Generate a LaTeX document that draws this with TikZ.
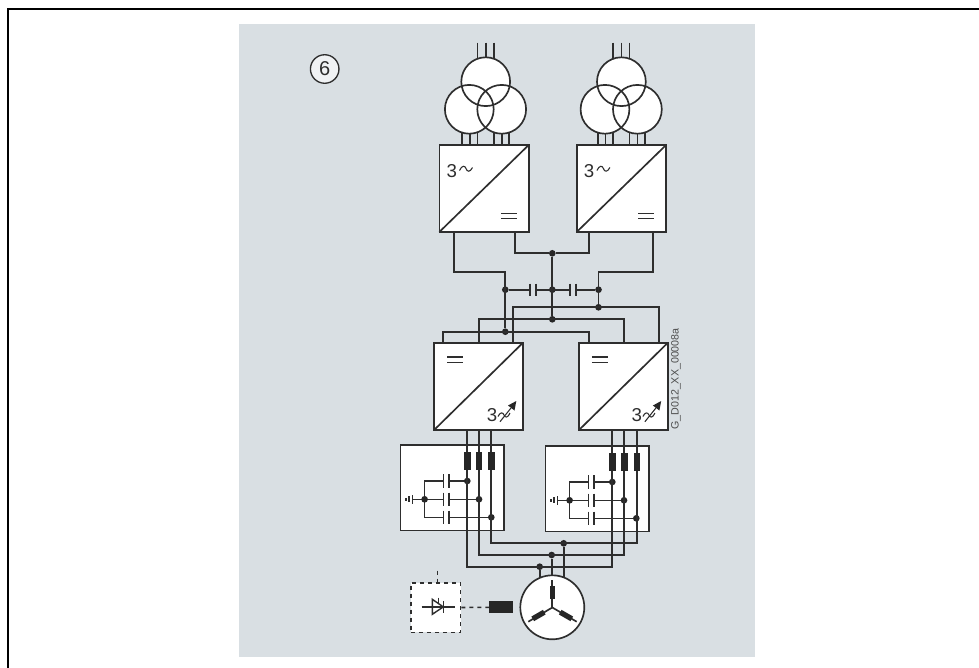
\documentclass[tikz,border=0pt]{standalone}
\usepackage{fontspec}
\setmainfont{Liberation Sans}
\definecolor{panel}{HTML}{D9DFE3}
\definecolor{ink}{HTML}{2E2E2E}
\tikzset{
  x=0.75pt,y=-0.75pt,
  wire/.style={draw=ink,line width=1.25pt,line cap=butt,line join=miter},
  thin wire/.style={draw=ink,line width=1.05pt},
  whitebox/.style={draw=ink,fill=white,line width=1.25pt,inner sep=0pt,outer sep=0pt},
  winding/.style={circle,draw=ink,line width=1.25pt,inner sep=0pt,outer sep=0pt,minimum size=36.6pt},
  windingfill/.style={circle,fill=white,inner sep=0pt,minimum size=36.6pt},
  junction/.style={circle,fill=black!85,inner sep=0pt,minimum size=5pt},
  choke/.style={fill=black!85,draw=none,inner sep=0pt,minimum width=4.8pt,minimum height=13.6pt},
  numeral/.style={text=ink,inner sep=0pt,font=\fontsize{14}{14}\selectfont},
  dashline/.style={draw=ink,line width=1.2pt,dash pattern=on 3pt off 3pt}
}
% transformer: #1 prefix, #2 x shift
\newcommand{\transformerunit}[2]{%
  \begin{scope}[shift={(#2,0)}]
    \foreach \lx in {477.5,485.7,493.9}{\draw[wire] (\lx,42.7) -- (\lx,62);}
    \foreach \lx in {462,469.7,477.5,493.7,501.7,509.3}{\draw[wire] (\lx,122) -- (\lx,145);}
    \node[windingfill] at (485.7,81.7) {};
    \node[windingfill] at (469.3,109.3) {};
    \node[windingfill] at (501.7,109.3) {};
    \node[winding] (#1top) at (485.7,81.7) {};
    \node[winding] (#1left) at (469.3,109.3) {};
    \node[winding] (#1right) at (501.7,109.3) {};
  \end{scope}}
% rectifier: #1 prefix, #2 x shift
\newcommand{\rectifierunit}[2]{%
  \begin{scope}[shift={(#2,0)}]
    \node[whitebox,minimum width=67pt,minimum height=65.2pt] (#1box) at (484,188.5) {};
    \draw[wire] (#1box.south west) -- (#1box.north east);
    \node[numeral] (#1three) at (451.7,171) {3};
    \draw[wire,line width=0.8pt] (459.5,170.5) .. controls (462,165) and (465,165.5) .. (466,168.5)
       .. controls (467,172) and (470,172.5) .. (472.5,167.5);
    \draw[wire,line width=0.9pt] (501,213.5) -- (517,213.5) (501,218.5) -- (517,218.5);
  \end{scope}}
% inverter: #1 prefix, #2 x shift
\newcommand{\inverterunit}[2]{%
  \begin{scope}[shift={(#2,0)}]
    \node[whitebox,minimum width=66.7pt,minimum height=65.5pt] (#1box) at (478.5,386.4) {};
    \draw[wire] (#1box.south west) -- (#1box.north east);
    \draw[wire,line width=0.9pt] (447,357) -- (463,357) (447,362.5) -- (463,362.5);
    \node[numeral] (#1three) at (492,415) {3};
    \draw[wire,line width=0.8pt] (498,416.5) .. controls (500,412) and (503,412) .. (504,415)
       .. controls (505,418) and (508,418) .. (510,413);
    \draw[draw=ink,line width=0.8pt] (500,421.7) -- (511,408);
    \fill[black!85] (516.3,401) -- (514.5,410.5) -- (508,405.5) -- cycle;
  \end{scope}}
% filter: #1 prefix, #2 x shift, #3 y shift
\newcommand{\filterunit}[3]{%
  \begin{scope}[shift={(#2,#3)}]
    \node[whitebox,minimum width=77.5pt,minimum height=64pt] (#1box) at (452,487.7) {};
    \foreach \cy in {481,499.3,517.3}{
      \draw[thin wire] (424.4,\cy) -- (443.3,\cy);
      \draw[thin wire] (443.3,\cy-6.7) -- (443.3,\cy+6.7);
      \draw[thin wire] (449,\cy-6.7) -- (449,\cy+6.7);
    }
    \draw[thin wire] (449,481) -- (467.3,481);
    \draw[thin wire] (449,499.3) -- (479,499.3);
    \draw[thin wire] (449,517.3) -- (491.3,517.3);
    \draw[thin wire] (424.4,481) -- (424.4,517.3);
    \draw[thin wire] (424.4,499.3) -- (412.3,499.3);
    \draw[thin wire] (412.3,495) -- (412.3,504) (409,496.3) -- (409,502.3) (406,497.8) -- (406,500.8);
    \node[junction] (#1ja) at (467.3,481) {};
    \node[junction] (#1jb) at (479,499.3) {};
    \node[junction] (#1jc) at (491.3,517.3) {};
    \node[junction] (#1jg) at (424.6,499.3) {};
  \end{scope}}
\begin{document}
\begin{tikzpicture}
\useasboundingbox (0,0) rectangle (979,668);
\fill[white] (0,0) rectangle (979,668);
\fill[panel] (239,24) rectangle (755,657);
\draw[black,line width=1.5pt] (979,9) -- (8,9) -- (8,668);
% label 6
\node[circle,draw=ink,fill=white!60!panel,line width=1pt,minimum size=21.4pt,inner sep=0pt,text=ink,font=\fontsize{15}{15}\selectfont] (six) at (324.7,69) {6};
% upper units
\transformerunit{s}{0}
\transformerunit{t}{135.7}
\rectifierunit{p}{0}
\rectifierunit{q}{137.4}
% DC link junctions
\coordinate (a1) at (454,232);
\coordinate (a2) at (515,232);
\coordinate (b1) at (589.3,232);
\coordinate (b2) at (652.7,232);
\node[junction] (jmid) at (552.3,253.3) {};
\node[junction] (cl) at (505.3,289.7) {};
\node[junction] (cm) at (552.3,289.7) {};
\node[junction] (cr) at (598.5,289.7) {};
\node[junction] (jp) at (598.5,307.3) {};
\node[junction] (jz) at (552.3,319.3) {};
\node[junction] (jn) at (505.3,331.7) {};
\coordinate (c1a) at (530.3,289.7);
\coordinate (c1b) at (535.7,289.7);
\coordinate (c2a) at (570.3,289.7);
\coordinate (c2b) at (576,289.7);
\draw[wire] (a1) |- (505.3,271.7) -- (jn);
\draw[wire] (a2) |- (jmid);
\draw[wire] (b1) |- (jmid);
\draw[wire] (jmid) -- (jz);
\draw[wire] (b2) |- (598.5,271.7) -- (jp);
\draw[wire] (cl) -- (c1a);
\draw[wire] (c1b) -- (c2a);
\draw[wire] (c2b) -- (cr);
\draw[wire] (530.3,283.7) -- (530.3,295.7) (535.7,283.7) -- (535.7,295.7);
\draw[wire] (570.3,283.7) -- (570.3,295.7) (576,283.7) -- (576,295.7);
% inverter feeds
\draw[wire] (512.7,343) |- (658.7,307.3) -- (658.7,343);
\draw[wire] (479,343) |- (624.3,319.3) -- (624.3,343);
\draw[wire] (443,343) |- (588.7,331.7) -- (588.7,343);
\inverterunit{u}{0}
\inverterunit{v}{144.9}
% filters
\filterunit{f}{0}{0}
\filterunit{g}{145}{1}
% phase lines and bus to motor
\node[circle,draw=ink,fill=white,line width=1.25pt,minimum size=48pt,inner sep=0pt] (motor) at (552.3,607.3) {};
\node[junction] (m1) at (539.7,566.7) {};
\node[junction] (m2) at (551.7,555) {};
\node[junction] (m3) at (563.7,543.3) {};
\draw[wire] (467.3,430) |- (612.3,566.7) -- (612.3,430);
\draw[wire] (479,430) |- (624.3,555) -- (624.3,430);
\draw[wire] (491.3,430) |- (636.7,543.3) -- (636.7,430);
\draw[wire] (m1) -- (539.7,577.8);
\draw[wire] (m2) -- (551.7,575.3);
\draw[wire] (m3) -- (563.7,577.2);
% line chokes
\foreach \cx/\nm in {467.3/fa,479/fb,491.3/fc}{\node[choke] (\nm) at (\cx,460.8) {};}
\foreach \cx/\nm in {612.3/ga,624.3/gb,636.7/gc}{\node[choke] (\nm) at (\cx,461.8) {};}
% star in motor
\coordinate (star) at (552.3,607.5);
\draw[wire] (star) -- (552.3,580);
\draw[wire] (star) -- (528.3,621.7);
\draw[wire] (star) -- (576.7,621.7);
\node[choke,minimum height=10pt,minimum width=4pt] (m_a) at (552.3,592.7) {};
\node[choke,minimum height=10pt,minimum width=4pt,rotate=-60] (m_b) at (538.5,615.5) {};
\node[choke,minimum height=10pt,minimum width=4pt,rotate=60] (m_c) at (566,615.5) {};
% excitation
\node[draw=ink,line width=1.2pt,dash pattern=on 3pt off 3pt,minimum width=37.3pt,minimum height=37.2pt,inner sep=0pt,fill=white] (exc) at (435.8,607.5) {};
\coordinate (stub) at (437.3,570.7);
\draw[dashline] (stub) -- (437.3,582.7);
\node[fill=black!85,minimum width=18pt,minimum height=9pt,inner sep=0pt] (ex) at (501.3,607.3) {};
\draw[dashline] (exc.east) -- (ex.west);
\coordinate (da) at (421.7,606.9);
\coordinate (db) at (455,606.9);
\draw[thin wire] (da) -- (db);
\draw[thin wire] (432.3,599.3) -- (432.3,614.3) -- (443.3,606.9) -- cycle;
\draw[thin wire] (443.3,600.8) -- (443.3,612.8);
\draw[thin wire] (438.5,597.5) -- (438.5,603);
% drawing code
\node[rotate=90,text=ink!85,inner sep=0pt,font=\fontsize{8}{8}\selectfont] (code) at (676,379) {G\_D012\_XX\_00008a};
\end{tikzpicture}
\end{document}
